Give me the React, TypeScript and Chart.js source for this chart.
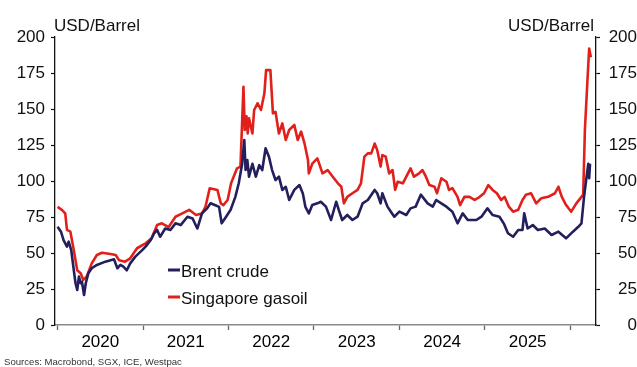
import React, { useEffect, useRef } from 'react';
import { Chart, registerables } from 'chart.js';

Chart.register(...registerables);

// Dates as decimal years
const brentDates = [
  2020.0, 2020.04, 2020.07, 2020.11, 2020.13, 2020.16, 2020.19, 2020.21, 2020.23, 2020.25, 2020.27,
  2020.285, 2020.31, 2020.33, 2020.36, 2020.4, 2020.46, 2020.56, 2020.66, 2020.7, 2020.735, 2020.77,
  2020.81, 2020.85, 2020.91, 2020.99, 2021.03, 2021.09, 2021.13, 2021.165, 2021.2, 2021.26, 2021.32,
  2021.38, 2021.44, 2021.52, 2021.58, 2021.635, 2021.69, 2021.75, 2021.79, 2021.84, 2021.89, 2021.92,
  2021.97, 2022.025, 2022.08, 2022.12, 2022.16, 2022.185, 2022.2, 2022.22, 2022.24, 2022.28, 2022.32,
  2022.36, 2022.395, 2022.434, 2022.473, 2022.51, 2022.55, 2022.59, 2022.63, 2022.67, 2022.71, 2022.77,
  2022.83, 2022.87, 2022.9, 2022.94, 2022.98, 2023.04, 2023.08, 2023.14, 2023.2, 2023.26, 2023.29,
  2023.33, 2023.39, 2023.45, 2023.51, 2023.57, 2023.63, 2023.71, 2023.74, 2023.78, 2023.8, 2023.86,
  2023.9, 2023.94, 2024.0, 2024.08, 2024.13, 2024.19, 2024.25, 2024.33, 2024.39, 2024.43, 2024.49,
  2024.55, 2024.62, 2024.68, 2024.74, 2024.8, 2024.9, 2024.96, 2025.03, 2025.09, 2025.17, 2025.22,
  2025.27, 2025.33, 2025.39, 2025.44, 2025.46, 2025.5, 2025.56, 2025.62, 2025.7, 2025.78, 2025.86,
  2025.95, 2026.03, 2026.09, 2026.13, 2026.16, 2026.19, 2026.21, 2026.22, 2026.23,
];
const brentValues = [
  68.3, 64.8, 59, 54.4, 57.9, 52, 38, 29, 24.3, 33.6, 29,
  30, 20.8, 29, 35.9, 39.4, 41.7, 44, 45.6, 39.4, 41.7, 40.5,
  38, 42.8, 47.5, 52, 54.4, 59, 63.7, 66, 61.3, 67, 66,
  70.6, 69.4, 75.2, 74, 67, 77.5, 81, 84.5, 83.3, 82, 70.6,
  75, 80, 89, 98.4, 112, 128.5, 107.6, 114.6, 103, 112, 103,
  111, 107.6, 122.7, 116.9, 107.6, 100.7, 103, 93.8, 96, 86.8, 93.8,
  97.2, 91.4, 82, 77.5, 83.3, 84.5, 85.6, 82.2, 72.9, 85.6, 79.9,
  72.9, 76.4, 72.9, 75.2, 84.5, 86.8, 93.8, 91.5, 84.5, 91.5, 82.2,
  78.7, 75.2, 78.7, 76.4, 81, 82.2, 90.5, 84.5, 82.2, 86.8, 84.5,
  82.2, 78.7, 70.6, 77.5, 72.9, 72.9, 75.2, 81, 76.4, 75.2, 70.6,
  63.7, 61.3, 66, 66, 77.5, 67, 69.4, 66, 67, 62.5, 64.8,
  60.2, 64.8, 68, 70.6, 89, 103, 112, 101.9, 112,
];

const gasoilDates = [
  2020.0, 2020.05, 2020.09, 2020.11, 2020.15, 2020.19, 2020.21, 2020.23, 2020.27, 2020.3, 2020.34,
  2020.4, 2020.46, 2020.52, 2020.62, 2020.68, 2020.72, 2020.79, 2020.85, 2020.93, 2021.03, 2021.1,
  2021.165, 2021.22, 2021.3, 2021.38, 2021.46, 2021.54, 2021.62, 2021.69, 2021.73, 2021.78, 2021.87,
  2021.91, 2021.94, 2021.99, 2022.03, 2022.1, 2022.14, 2022.175, 2022.19, 2022.21, 2022.225, 2022.24,
  2022.28, 2022.3, 2022.34, 2022.38, 2022.42, 2022.44, 2022.49, 2022.52, 2022.55, 2022.59, 2022.63,
  2022.67, 2022.71, 2022.77, 2022.81, 2022.85, 2022.89, 2022.93, 2022.94, 2022.98, 2023.04, 2023.1,
  2023.16, 2023.22, 2023.28, 2023.32, 2023.35, 2023.39, 2023.45, 2023.51, 2023.55, 2023.59, 2023.63,
  2023.67, 2023.71, 2023.74, 2023.78, 2023.8, 2023.84, 2023.88, 2023.92, 2023.95, 2023.98, 2024.04,
  2024.1, 2024.13, 2024.17, 2024.23, 2024.27, 2024.31, 2024.35, 2024.41, 2024.44, 2024.49, 2024.55,
  2024.58, 2024.62, 2024.68, 2024.71, 2024.76, 2024.82, 2024.88, 2024.94, 2024.99, 2025.04, 2025.09,
  2025.14, 2025.19, 2025.23, 2025.28, 2025.33, 2025.39, 2025.44, 2025.48, 2025.54, 2025.6, 2025.66,
  2025.74, 2025.82, 2025.86, 2025.9, 2025.95, 2026.01, 2026.07, 2026.13, 2026.15, 2026.17, 2026.2,
  2026.22, 2026.24,
];
const gasoilValues = [
  82, 80, 77.5, 66, 64.8, 52, 45, 38, 36, 31.3, 33.6,
  42.8, 48.6, 50.2, 49.3, 48.6, 45, 44, 46.3, 53.3, 56.7, 60.2,
  69.4, 70.6, 68, 75.2, 77.5, 80, 76.4, 77.5, 82, 94.9, 93.8,
  84.5, 83.3, 86.8, 98.4, 108.8, 110, 165.5, 135.4, 145, 133, 143.5,
  133, 149.3, 154, 149.3, 160.9, 177, 177, 147, 148, 133, 140,
  128.5, 135.4, 139, 128.5, 134.3, 126, 114.6, 105.3, 112, 115.7, 105.3,
  107.6, 103, 98.4, 96, 84.5, 89, 91.5, 93.8, 98.4, 116.9, 119.2,
  119.2, 126, 121.5, 110, 118, 116.9, 105.3, 107.6, 93.8, 99.5, 98.4,
  105.3, 108.8, 103, 105.3, 107.6, 103, 97.2, 96, 91.5, 101.9, 99.5,
  93.8, 95, 89, 83.3, 89, 89, 86.8, 89, 91.5, 97.2, 93.8,
  91.5, 86.8, 89, 82.2, 78.7, 80, 86.8, 90.5, 91.5, 84.5, 88,
  89, 91.5, 96, 89, 83.3, 78.7, 84.5, 89, 90.5, 135.4, 170,
  192, 186,
];

const yTickValues = [0, 25, 50, 75, 100, 125, 150, 175, 200];
const yearLabels = ['2020', '2021', '2022', '2023', '2024', '2025'];
const seriesNames = ['Brent crude', 'Singapore gasoil'];
const unitLabel = 'USD/Barrel';
const sourceText = 'Sources: Macrobond, SGX, ICE, Westpac';

const NAVY = '#231f5c';
const RED = '#e2201b';
const FONT = "'Liberation Sans', Arial, Helvetica, sans-serif";

export default function App() {
  const ref = useRef<HTMLCanvasElement>(null);

  useEffect(() => {
    document.body.style.margin = '0';
    const canvas = ref.current;
    if (!canvas) return;

    const overlay = {
      id: 'overlay',
      afterDraw(chart: any) {
        const { ctx, chartArea } = chart;
        ctx.save();
        ctx.fillStyle = '#111';
        ctx.font = `17px ${FONT}`;
        ctx.textBaseline = 'alphabetic';
        ctx.textAlign = 'left';
        ctx.fillText(unitLabel, chartArea.left - 1, 31);
        ctx.textAlign = 'right';
        ctx.fillText(unitLabel, chartArea.right - 2, 31);

        // legend
        const lx = chartArea.left + 113;
        const colors = [NAVY, RED];
        const ys = [270, 297];
        seriesNames.forEach((name, i) => {
          ctx.strokeStyle = colors[i];
          ctx.lineWidth = 3;
          ctx.beginPath();
          ctx.moveTo(lx, ys[i]);
          ctx.lineTo(lx + 12, ys[i]);
          ctx.stroke();
          ctx.fillStyle = '#111';
          ctx.textAlign = 'left';
          ctx.fillText(name, lx + 13, ys[i] + 6.5);
        });

        // sources
        ctx.font = `9.6px ${FONT}`;
        ctx.fillStyle = '#333';
        ctx.textAlign = 'left';
        ctx.fillText(sourceText, 4, 365);
        ctx.restore();
      },
    };

    const yAxisCommon = (position: string, width: number, crossAlign: string) => ({
      type: 'linear',
      position,
      min: 0,
      max: 200,
      afterBuildTicks: (s: any) => {
        s.ticks = yTickValues.map((v) => ({ value: v }));
      },
      afterFit: (s: any) => {
        s.width = width;
      },
      ticks: {
        padding: 6,
        crossAlign,
        color: '#111',
        font: { family: FONT, size: 17 },
      },
      grid: {
        drawOnChartArea: false,
        drawTicks: true,
        tickLength: 4,
        color: '#111',
        tickColor: '#111',
        tickWidth: 1.2,
      },
      border: { display: true, color: '#111', width: 1.3 },
    });

    const chart = new Chart(canvas, {
      type: 'line',
      data: {
        datasets: [
          {
            label: seriesNames[0],
            data: brentDates.map((x, i) => ({ x, y: brentValues[i] })),
            borderColor: NAVY,
            backgroundColor: NAVY,
            borderWidth: 2.6,
            borderJoinStyle: 'round',
            pointRadius: 0,
            tension: 0,
            yAxisID: 'y',
          },
          {
            label: seriesNames[1],
            data: gasoilDates.map((x, i) => ({ x, y: gasoilValues[i] })),
            borderColor: RED,
            backgroundColor: RED,
            borderWidth: 2.6,
            borderJoinStyle: 'round',
            pointRadius: 0,
            tension: 0,
            yAxisID: 'y',
          },
        ],
      },
      options: {
        responsive: false,
        animation: false,
        layout: { padding: { top: 37, bottom: 0, left: 0, right: 0 } },
        plugins: {
          legend: { display: false },
          tooltip: { enabled: false },
          title: { display: false },
        },
        scales: {
          x: {
            type: 'linear',
            min: 2019.97,
            max: 2026.3,
            afterBuildTicks: (s: any) => {
              const t: any[] = [];
              for (let i = 0; i <= yearLabels.length; i++) {
                t.push({ value: 2020 + i });
                if (i < yearLabels.length) t.push({ value: 2020 + i + 0.5 });
              }
              s.ticks = t;
            },
            afterFit: (s: any) => {
              s.height = 42;
            },
            ticks: {
              autoSkip: false,
              maxRotation: 0,
              minRotation: 0,
              padding: 2,
              color: '#000',
              font: { family: FONT, size: 17 },
              callback: (v: any) => {
                const n = Number(v);
                if (Math.abs(n - Math.round(n)) < 0.01) return '';
                return yearLabels[Math.floor(n) - 2020] ?? '';
              },
            },
            grid: {
              drawOnChartArea: false,
              drawTicks: true,
              tickLength: 5,
              tickWidth: 1.3,
              tickColor: (c: any) => {
                const v = c.tick ? c.tick.value : 0;
                return Math.abs(v - Math.round(v)) < 0.01 ? '#666' : 'rgba(0,0,0,0)';
              },
            },
            border: { display: true, color: '#8a8a8a', width: 1.5 },
          },
          y: yAxisCommon('left', 55, 'near'),
          y2: yAxisCommon('right', 41, 'far'),
        },
      } as any,
      plugins: [overlay],
    });

    return () => chart.destroy();
  }, []);

  return (
    <div style={{ position: 'relative', width: 637, height: 367 }}>
      <canvas ref={ref} width={637} height={367} style={{ display: 'block', width: 637, height: 367 }} />
    </div>
  );
}
